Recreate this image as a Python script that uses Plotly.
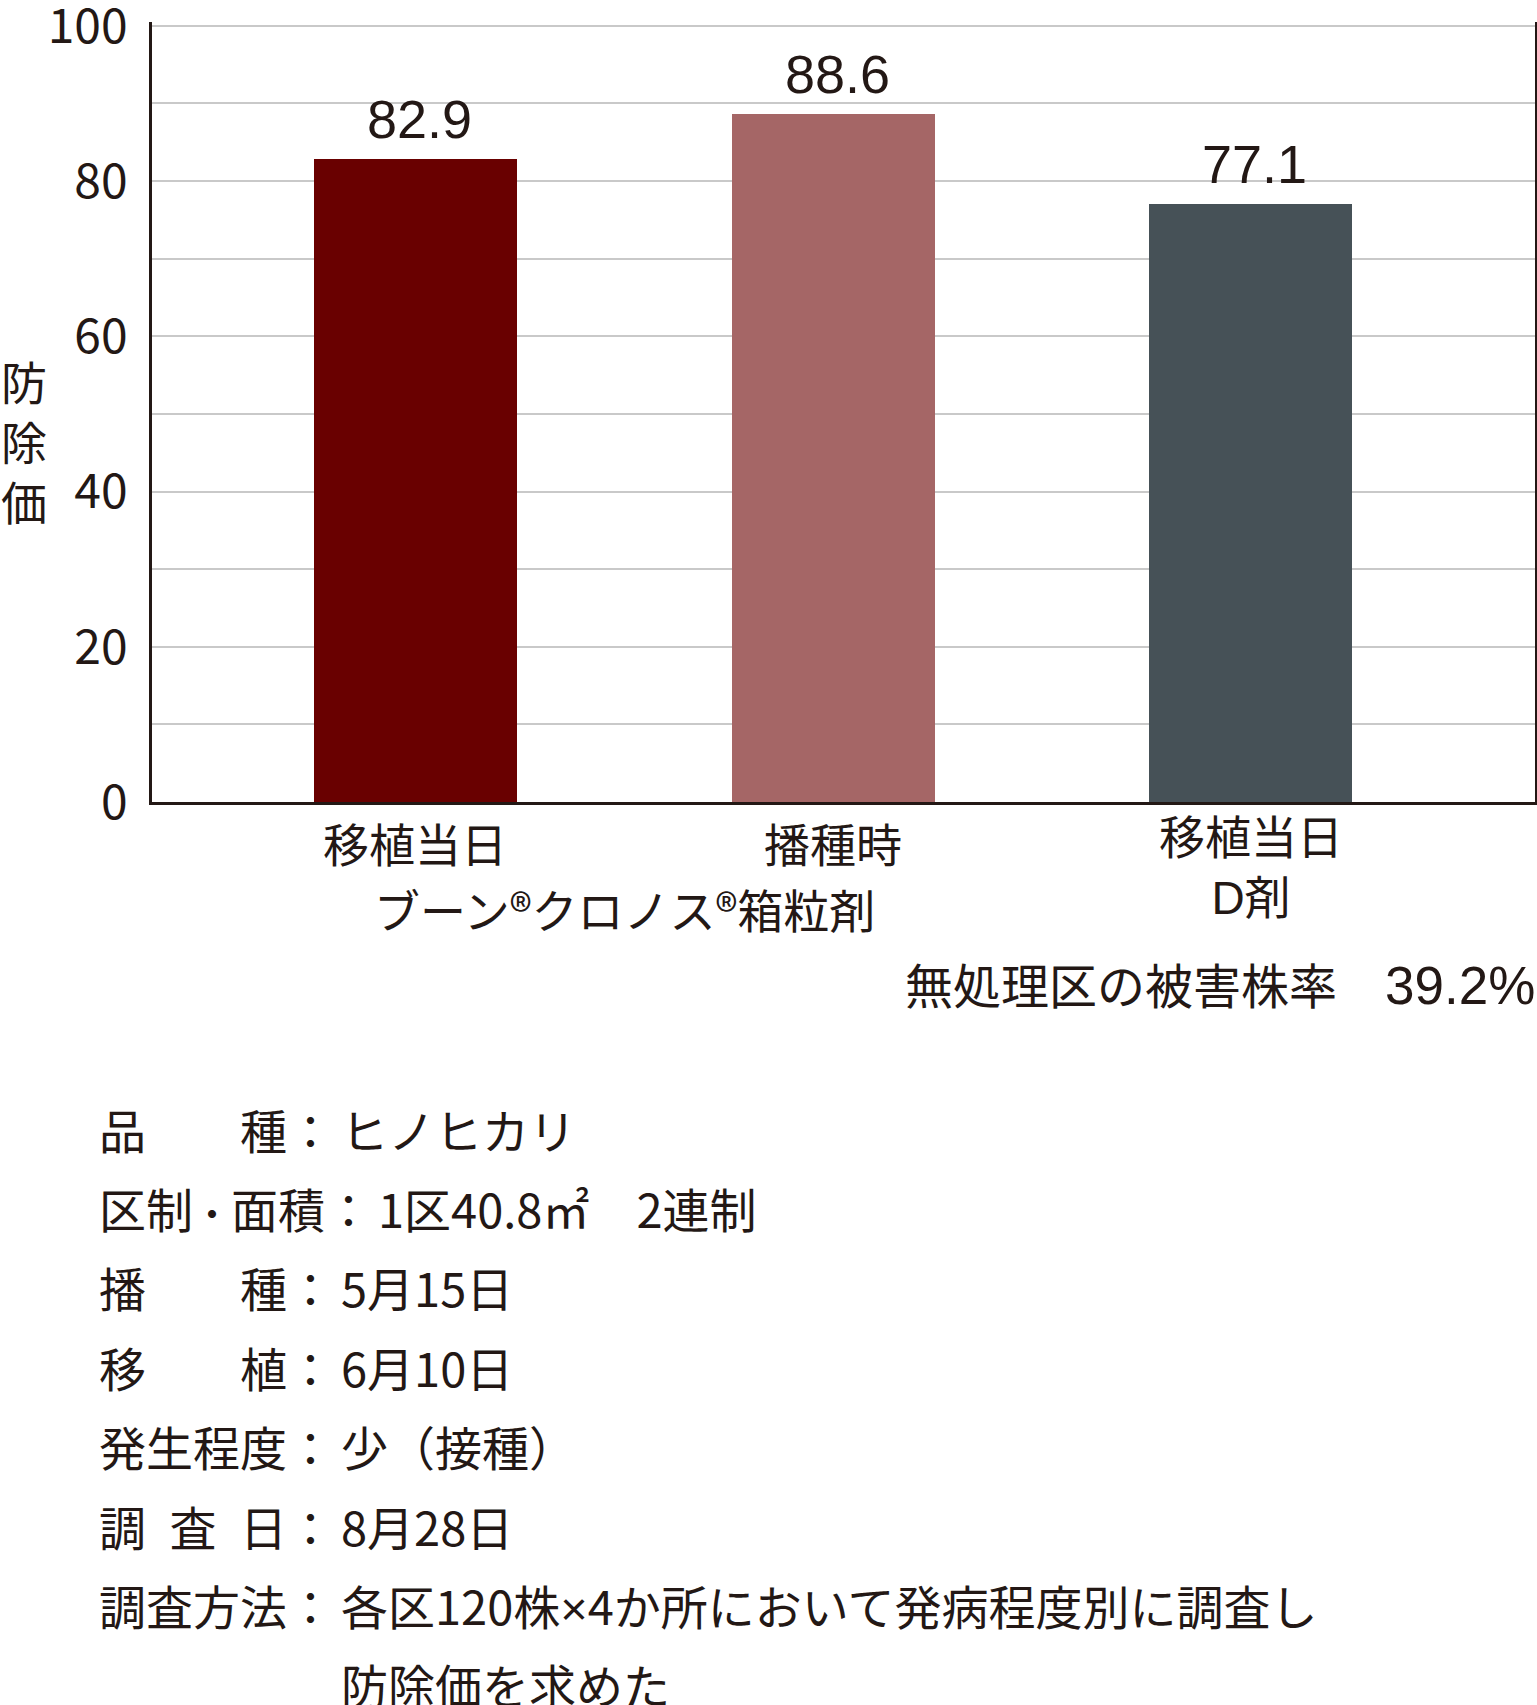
import plotly.graph_objects as go

# ---- data ----
categories = ["移植当日", "播種時", "移植当日D剤"]
values = [82.9, 88.6, 77.1]
value_labels = ["82.9", "88.6", "77.1"]
bar_colors = ["#690000", "#a56666", "#465157"]
y_ticks = [0, 20, 40, 60, 80, 100]
y_title = "防<br>除<br>価"
product_label = "ブーン®クロノス®箱粒剤"
cat_labels = ["移植当日", "播種時", "移植当日<br>D剤"]
untreated_text = "無処理区の被害株率　"
untreated_rate = "39.2%"
info_labels = [
    "品　　種：",
    "区制<span style=\"font-size:38px\">・</span>面積：",
    "播　　種：",
    "移　　植：",
    "発生程度：",
    "調\u2002査\u2002日：",
    "調査方法：",
    "",
]
info_values = [
    "ヒノヒカリ",
    "1区40.8㎡　2連制",
    "5月15日",
    "6月10日",
    "少（接種）",
    "8月28日",
    "各区120株<span style=\"font-family:Liberation Sans\">×</span>4か所において発病程度別に調査し",
    "防除価を求めた",
]

# ---- layout geometry (pixels) ----
W, H = 1537, 1705
Y_MAX = 100.5
L, R, T, B = 152, 2, 22, 903
PW, PH = W - L - R, H - T - B
INK = "#231815"
CJK = "Noto Sans CJK JP"
LAT = "Liberation Sans, Noto Sans CJK JP"
INFO_X, INFO_Y0, INFO_DY = 97, 1128, 79.4
VALUE_X = [339, 376, 339, 339, 339, 339, 339, 339]


def px(x):
    return (x - L) / PW


def py(y):
    return (H - B - y) / PH


fig = go.Figure()
fig.add_trace(go.Bar(
    x=list(range(len(values))), y=values,
    marker=dict(color=bar_colors, line=dict(width=0)),
    width=0.486, showlegend=False, hoverinfo="skip",
))

ann = []
# value labels
for i, (v, t) in enumerate(zip(values, value_labels)):
    ann.append(dict(x=i, y=v, xref="x", yref="y", text=t, showarrow=False,
                    yanchor="bottom", yshift=8, xshift=4,
                    font=dict(family=LAT, size=54, color=INK)))
# y title
ann.append(dict(x=px(24), y=py(440), xref="paper", yref="paper",
                text=y_title, showarrow=False, xanchor="center", yanchor="middle",
                font=dict(family=CJK, size=46, color=INK)))
# category labels
for i, lab in enumerate(cat_labels):
    yc = 868 if "<br>" in lab else 846
    ann.append(dict(x=i, y=py(yc), xref="x", yref="paper", text=lab,
                    showarrow=False, xanchor="center", yanchor="middle",
                    font=dict(family=LAT, size=46, color=INK)))
ann.append(dict(x=0.5, y=py(908), xref="x", yref="paper", text=product_label,
                showarrow=False, xanchor="center", yanchor="middle",
                font=dict(family=CJK, size=46, color=INK)))
# untreated note
ann.append(dict(x=px(1537), y=py(985), xref="paper", yref="paper",
                text=untreated_text + "<span style=\"font-size:53px\">" + untreated_rate + "</span>",
                showarrow=False, xanchor="right", yanchor="middle",
                font=dict(family=LAT, size=48, color=INK)))
# info block
for k, (lab, val) in enumerate(zip(info_labels, info_values)):
    yk = py(INFO_Y0 + INFO_DY * k)
    if lab:
        ann.append(dict(x=px(INFO_X), y=yk, xref="paper", yref="paper",
                        text=lab, showarrow=False, xanchor="left", yanchor="middle",
                        font=dict(family=CJK, size=47, color=INK)))
    ann.append(dict(x=px(VALUE_X[k]), y=yk, xref="paper", yref="paper",
                    text=val, showarrow=False, xanchor="left", yanchor="middle",
                    font=dict(family=CJK, size=47, color=INK)))

fig.update_layout(
    width=W, height=H,
    margin=dict(l=L, r=R, t=T, b=B, pad=0, autoexpand=False),
    paper_bgcolor="white", plot_bgcolor="white",
    annotations=ann,
    bargap=0,
)
fig.update_xaxes(
    range=[-0.631, 2.681], showticklabels=False, ticks="",
    showgrid=False, zeroline=False, automargin=False,
    showline=True, linecolor=INK, linewidth=2.5, mirror=False,
)
fig.update_yaxes(
    range=[0, Y_MAX], tickvals=y_ticks, ticktext=[str(t) for t in y_ticks],
    ticks="outside", ticklen=12, tickcolor="rgba(0,0,0,0)",
    tickfont=dict(family=CJK, size=48, color=INK),
    ticklabeloverflow="allow", automargin=False,
    showgrid=True, gridcolor="#c9c9c9", gridwidth=1.5,
    minor=dict(dtick=10, showgrid=True, gridcolor="#c9c9c9", gridwidth=1.5, ticks=""),
    zeroline=False,
    showline=True, linecolor=INK, linewidth=2.5, mirror=True,
)

fig.write_html(
    "out.html",
    config={"displayModeBar": False},
    post_script="document.body.style.margin='0';document.body.style.overflow='hidden';",
)
